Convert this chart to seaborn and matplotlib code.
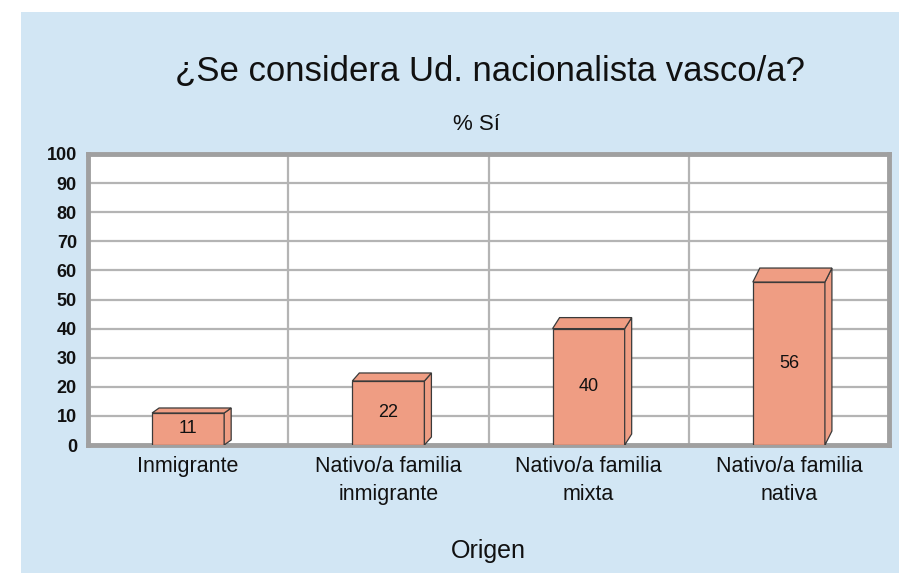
import matplotlib
matplotlib.use("Agg")
import matplotlib.pyplot as plt
import seaborn as sns
import pandas as pd
from matplotlib.patches import Polygon, Rectangle

# data
categories = ["Inmigrante", "Nativo/a familia\ninmigrante", "Nativo/a familia\nmixta", "Nativo/a familia\nnativa"]
values = [11, 22, 40, 56]

sns.set_style("white")
plt.rcParams['font.family'] = ['Liberation Sans', 'DejaVu Sans']

bg = "#D2E6F4"
bar_col = "#EF9D83"
ink = "#111111"

fig = plt.figure(figsize=(8.99, 5.73), dpi=100)
fig.patch.set_facecolor("white")
fig.patches.append(Rectangle((21 / 899, 0), 1, 1 - 12 / 573, transform=fig.transFigure,
                             facecolor=bg, edgecolor="none", zorder=-5))

ax = fig.add_axes([88 / 899, 1 - 445 / 573, (889 - 88) / 899, (445 - 154) / 573])
ax.set_zorder(2)
ax.set_facecolor("white")

df = pd.DataFrame({"Origen": categories, "pct": values})
sns.barplot(data=df, x="Origen", y="pct", color=bar_col, saturation=1, width=0.36,
            edgecolor="#3a3a3a", linewidth=0.9, ax=ax, zorder=3)

ax.set_ylim(0, 100)
ax.set_xlim(-0.5, len(categories) - 0.5)
ax.set_yticks(range(0, 101, 10))
for y in range(10, 100, 10):
    ax.axhline(y, color="#B4B4B4", lw=1.6, zorder=1)
for x in [0.5, 1.5, 2.5]:
    ax.axvline(x, color="#B4B4B4", lw=1.6, zorder=1)

for s in ax.spines.values():
    s.set_color("#A0A0A0")
    s.set_linewidth(3.5)
    s.set_visible(True)

ax.tick_params(axis="y", length=0, pad=8, labelsize=13, labelcolor=ink)
ax.tick_params(axis="x", length=0, pad=8, labelsize=15.5, labelcolor=ink)
for t in ax.get_yticklabels():
    t.set_fontweight("bold")
for t in ax.get_xticklabels():
    t.set_linespacing(1.45)

ax.set_ylabel("")
ax.set_xlabel("Origen", fontsize=18, labelpad=24, color=ink)

# fake 3d depth: top and side faces in pixel offsets
dx = 7
depths = [5, 8, 11, 14]
to_px = ax.transData.transform
to_data = ax.transData.inverted().transform
for i, p in enumerate(ax.patches):
    x0 = p.get_x()
    x1 = x0 + p.get_width()
    h = p.get_height()
    dy = depths[i]
    (ax0, ay0), (ax1, ah) = to_px([(x0, 0), (x1, h)])
    top = to_data([(ax0, ah), (ax1, ah), (ax1 + dx, ah + dy), (ax0 + dx, ah + dy)])
    side = to_data([(ax1, ay0), (ax1 + dx, ay0 + dy), (ax1 + dx, ah + dy), (ax1, ah)])
    for pts in (side, top):
        ax.add_patch(Polygon(pts, closed=True, facecolor=bar_col, edgecolor="#3a3a3a",
                             linewidth=0.9, zorder=3))
    ax.text(x0 + p.get_width() / 2, h / 2, str(values[i]), ha="center", va="center",
            fontsize=13, color=ink, zorder=4)

fig.text(490 / 899, 1 - 72 / 573, "¿Se considera Ud. nacionalista vasco/a?", ha="center",
         va="center", fontsize=25, color=ink)
fig.text(476 / 899, 1 - 125 / 573, "% Sí", ha="center", va="center", fontsize=16, color=ink)

fig.savefig("out.png", dpi=100, facecolor=fig.get_facecolor())
